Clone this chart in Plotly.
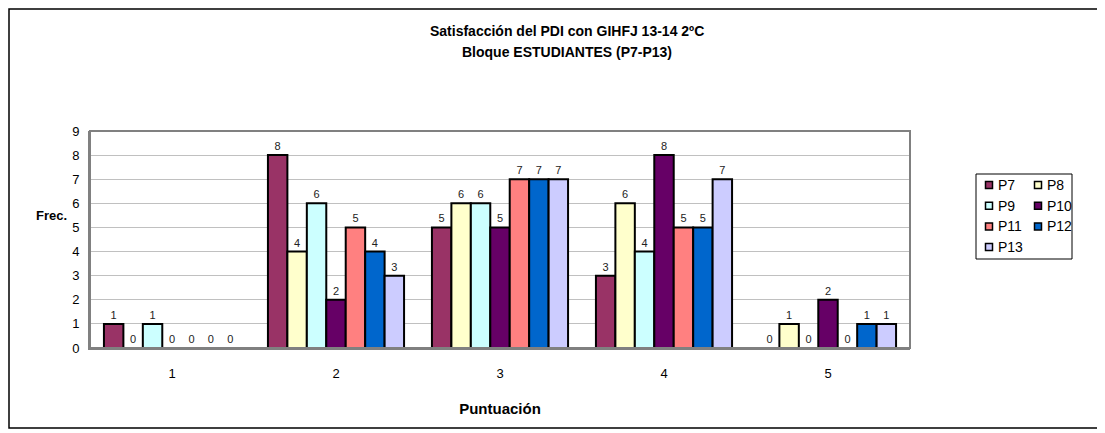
import plotly.graph_objects as go

categories = ["1", "2", "3", "4", "5"]
series_names = ["P7", "P8", "P9", "P10", "P11", "P12", "P13"]
P7 = [1, 8, 5, 3, 0]
P8 = [0, 4, 6, 6, 1]
P9 = [1, 6, 6, 4, 0]
P10 = [0, 2, 5, 8, 2]
P11 = [0, 5, 7, 5, 0]
P12 = [0, 4, 7, 5, 1]
P13 = [0, 3, 7, 7, 1]
values = [P7, P8, P9, P10, P11, P12, P13]
colors = ["#993366", "#FFFFCC", "#CCFFFF", "#660066", "#FF8080", "#0066CC", "#CCCCFF"]
title_lines = ["Satisfacción del PDI con GIHFJ 13-14 2ºC", "Bloque ESTUDIANTES (P7-P13)"]

FONT = "Liberation Sans, Arial, sans-serif"

fig = go.Figure()
for name, vals, col in zip(series_names, values, colors):
    fig.add_trace(go.Bar(
        name=name, x=categories, y=vals,
        marker=dict(color=col, line=dict(color="black", width=2)),
        text=[str(v) for v in vals], textposition="outside",
        textfont=dict(size=11, color="#222222", family=FONT),
        constraintext="none", cliponaxis=False, showlegend=False,
    ))

# page offset (browser body margin) compensation
OFF = 8
W, H = 1105 - OFF, 433 - OFF
# plot area in reference pixels
PL, PR, PT, PB = 90, 910, 131, 348
L, R, T, B = PL - OFF, W - (PR - OFF), PT - OFF, H - (PB - OFF)
pw, ph = W - L - R, H - T - B

def px_x(px):
    return (px - OFF - L) / pw

def px_y(py):
    return (H - B - (py - OFF)) / ph

fig.update_layout(
    width=W, height=H,
    margin=dict(l=L, r=R, t=T, b=B, autoexpand=False),
    paper_bgcolor="white", plot_bgcolor="white",
    barmode="group", bargap=0.17, bargroupgap=0,
    font=dict(family=FONT, size=13, color="black"),
    xaxis=dict(
        showgrid=False, showline=True, linecolor="#808080", linewidth=2,
        ticks="", tickfont=dict(size=13), ticklabelstandoff=12,
        title=dict(text="<b>Puntuación</b>", font=dict(size=15), standoff=24),
    ),
    yaxis=dict(
        range=[0, 9], dtick=1, showgrid=True, gridcolor="#C0C0C0", gridwidth=1,
        showline=True, linecolor="#808080", linewidth=2, zeroline=False,
        ticks="", tickfont=dict(size=13), ticklabelstandoff=6,
    ),
    showlegend=False,
)

# title lines
for txt, ty in zip(title_lines, [31, 51.5]):
    fig.add_annotation(text="<b>" + txt + "</b>", xref="paper", yref="paper",
                       x=px_x(567), y=px_y(ty), xanchor="center", yanchor="middle",
                       showarrow=False, font=dict(size=14, family=FONT, color="black"))

# plot area border
fig.add_shape(type="rect", xref="paper", yref="paper", x0=0, x1=1, y0=0, y1=1,
              line=dict(color="#808080", width=2), layer="above")
# outer chart border (clipped to the figure's own area at left/top)
fig.add_shape(type="rect", xref="paper", yref="paper",
              x0=px_x(OFF + 1), x1=px_x(1100), y0=px_y(428), y1=px_y(OFF + 1),
              line=dict(color="black", width=1.5))

# legend (two columns, drawn manually)
fig.add_shape(type="rect", xref="paper", yref="paper",
              x0=px_x(976), x1=px_x(1072), y0=px_y(259), y1=px_y(174),
              line=dict(color="black", width=1), fillcolor="white")
col_x = [989, 1038]
row_y0, row_dy = 185, 20.7
for i, (name, col) in enumerate(zip(series_names, colors)):
    cx = col_x[i % 2]
    cy = row_y0 + row_dy * (i // 2)
    fig.add_shape(type="rect", xref="paper", yref="paper",
                  x0=px_x(cx - 3.5), x1=px_x(cx + 3.5), y0=px_y(cy + 3.5), y1=px_y(cy - 3.5),
                  line=dict(color="black", width=1.5), fillcolor=col)
    fig.add_annotation(text=name, xref="paper", yref="paper",
                       x=px_x(cx + 7), y=px_y(cy), xanchor="left", yanchor="middle",
                       showarrow=False, font=dict(size=14, family=FONT, color="black"))

fig.add_annotation(text="<b>Frec.</b>", xref="paper", yref="paper",
                   x=px_x(69), y=px_y(215), xanchor="right", yanchor="middle", showarrow=False,
                   font=dict(size=13, family=FONT, color="black"))

fig.write_html("out.html")
